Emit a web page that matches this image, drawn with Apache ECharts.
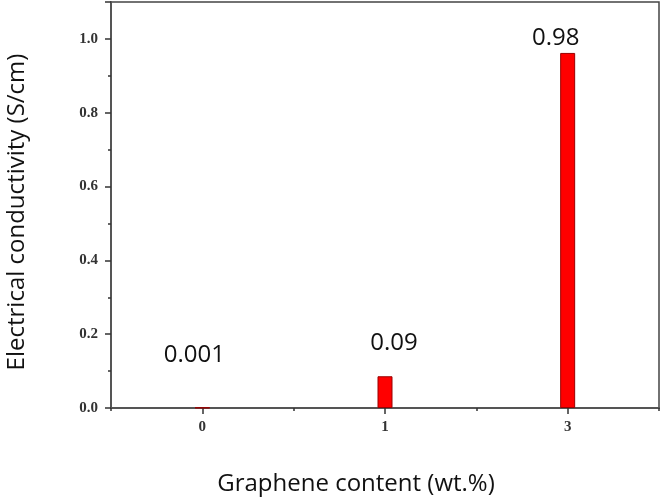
<!DOCTYPE html>
<html>
<head>
<meta charset="utf-8">
<script src="https://cdn.jsdelivr.net/npm/echarts@6/dist/echarts.min.js"></script>
<style>html,body{margin:0;padding:0;background:#fff;}#c{width:664px;height:504px;}</style>
</head>
<body>
<div id="c"></div>
<script>
// Data
const categories = ['0', '1', '3'];
const conductivity = [0.001, 0.086, 0.962];
const valueLabels = ['0.001', '0.09', '0.98'];
const yTickMin = 0;
const yTickMax = 1.1;
const yTickInterval = 0.2;

// label placement styling (offsets in px relative to default 'top' position)
const labelOffsets = [[-8, -39], [9, -20], [-12, -2]];

const chart = echarts.init(document.getElementById('c'), null, {renderer: 'canvas'});
const axisColor = '#555';
const tickFont = {fontFamily: 'Liberation Serif', fontWeight: 'bold', fontSize: 15, color: '#333'};

chart.setOption({
  animation: false,
  backgroundColor: '#fff',
  grid: {left: 111, top: 2, right: 5, bottom: 96, containLabel: false, outerBoundsMode: 'none',
         show: true, borderColor: '#444', borderWidth: 1.5, backgroundColor: 'transparent'},
  xAxis: [
    {
      type: 'category', data: categories, boundaryGap: true,
      name: 'Graphene content (wt.%)', nameLocation: 'middle', nameGap: 64,
      nameTextStyle: {fontFamily: 'Open Sans', fontSize: 24, color: '#111', padding: [0, 58, 0, 0]},
      axisLine: {lineStyle: {color: axisColor, width: 2}},
      axisTick: {show: true, alignWithLabel: true, length: 6, lineStyle: {color: '#333', width: 1.5}},
      axisLabel: Object.assign({margin: 12}, tickFont),
      splitLine: {show: false}
    },
    {
      type: 'category', data: categories, boundaryGap: true, position: 'bottom',
      axisLine: {show: false},
      axisTick: {show: true, alignWithLabel: false, length: 3, lineStyle: {color: '#333', width: 1.5}},
      axisLabel: {show: false},
      splitLine: {show: false}
    }
  ],
  yAxis: {
    type: 'value', min: yTickMin, max: yTickMax, interval: yTickInterval,
    name: 'Electrical conductivity (S/cm)', nameLocation: 'middle', nameGap: 82,
    nameTextStyle: {fontFamily: 'Open Sans', fontSize: 24, color: '#111', padding: [0, 14, 0, 0]},
    axisLine: {show: true, lineStyle: {color: axisColor, width: 2}},
    axisTick: {show: true, length: 6, lineStyle: {color: '#333', width: 1.5}},
    minorTick: {show: true, splitNumber: 2, length: 3, lineStyle: {color: '#333', width: 1.5}},
    axisLabel: Object.assign({margin: 13, showMaxLabel: false, formatter: v => v.toFixed(1)}, tickFont),
    splitLine: {show: false}
  },
  series: [{
    type: 'bar',
    xAxisIndex: 0,
    barWidth: 15,
    data: conductivity.map((v, i) => ({
      value: v,
      label: {show: true, position: 'top', distance: 0, offset: labelOffsets[i], formatter: valueLabels[i]}
    })),
    itemStyle: {color: '#ff0000', borderColor: '#9a0000', borderWidth: 1},
    label: {show: true, fontFamily: 'Open Sans', fontSize: 24, color: '#111', lineHeight: 26}
  }]
});
</script>
</body>
</html>
